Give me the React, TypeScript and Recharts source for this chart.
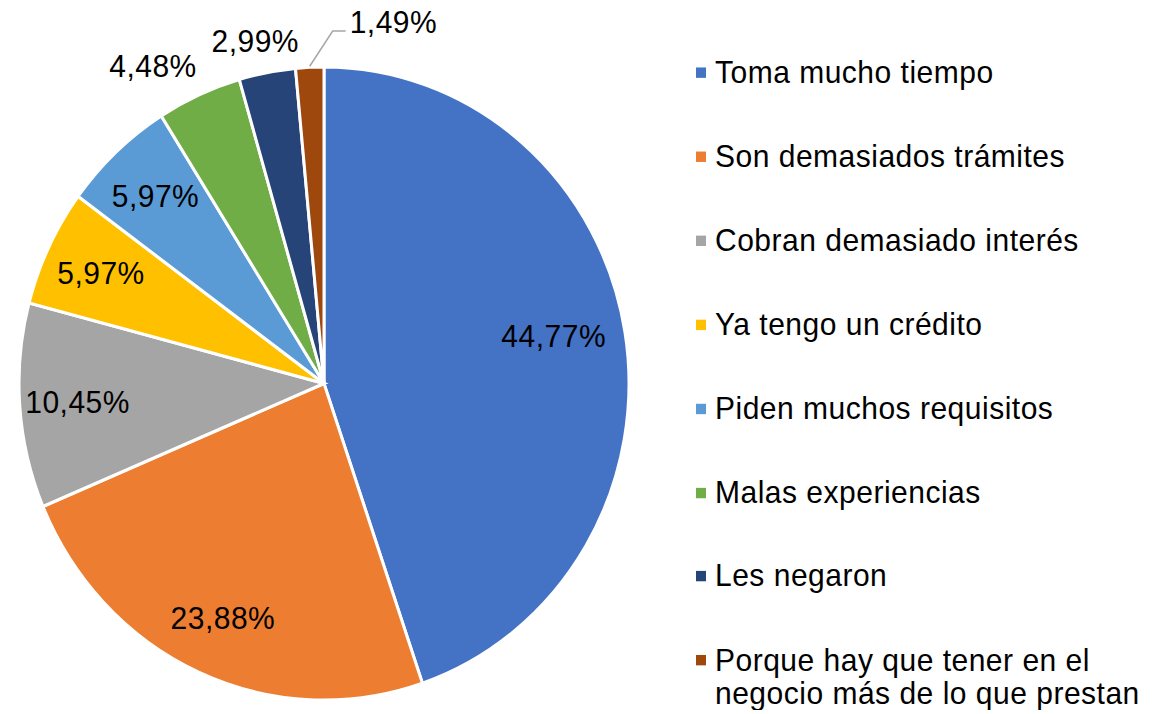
import React from "react";
import { PieChart, Pie, Cell, Legend } from "recharts";

// Razones para no pedir crédito (% de respuestas)
const categories = [
  "Toma mucho tiempo",
  "Son demasiados trámites",
  "Cobran demasiado interés",
  "Ya tengo un crédito",
  "Piden muchos requisitos",
  "Malas experiencias",
  "Les negaron",
  "Porque hay que tener en el negocio más de lo que prestan",
];
const percentages = [44.77, 23.88, 10.45, 5.97, 5.97, 4.48, 2.99, 1.49];
const sliceColors = [
  "#4472C4",
  "#ED7D31",
  "#A5A5A5",
  "#FFC000",
  "#5B9BD5",
  "#70AD47",
  "#264478",
  "#9E480E",
];

const FONT = "'Liberation Sans', Arial, sans-serif";
const FS = 30;
const STRETCH = 1.038; // the original pie is slightly taller than wide

const data = categories.map((name, i) => ({ name, value: percentages[i] }));

const fmt = (v: number) => v.toFixed(2).replace(".", ",") + "%";

const polar = (cx: number, cy: number, r: number, angle: number) => {
  const rad = (angle * Math.PI) / 180;
  return { x: cx + r * Math.cos(rad), y: cy - r * Math.sin(rad) };
};

// hand tweaks so labels sit where the original put them
const labelNudge: Record<number, { dx: number; dy: number }> = {
  0: { dx: -14, dy: -6 },
  5: { dx: -20, dy: 0 },
};

const renderLabel = (props: any) => {
  const { cx, cy, midAngle, outerRadius, value, index } = props;
  const text = fmt(value);
  const nudge = labelNudge[index] || { dx: 0, dy: 0 };
  const common = {
    fontFamily: FONT,
    fontSize: FS,
    letterSpacing: 0.5,
    fill: "#000",
  };

  if (value >= 5) {
    const p = polar(cx, cy, outerRadius * 0.81, midAngle);
    return (
      <text
        x={p.x + nudge.dx}
        y={p.y + nudge.dy + FS * 0.36}
        textAnchor="middle"
        {...common}
      >
        {text}
      </text>
    );
  }

  if (value < 2) {
    // tiny slice: label pulled out with a leader line
    const s = polar(cx, cy, outerRadius + 1, midAngle);
    const bx = s.x + 23;
    const by = s.y - 34;
    const ex = bx + 13;
    return (
      <g>
        <polyline
          points={`${s.x},${s.y} ${bx},${by} ${ex},${by}`}
          fill="none"
          stroke="#A6A6A6"
          strokeWidth={1.5}
        />
        <text x={ex + 4} y={by + 2} textAnchor="start" {...common}>
          {text}
        </text>
      </g>
    );
  }

  const w = FS * 2.9;
  const h = FS * 0.72;
  const p = polar(cx, cy, outerRadius + 20, midAngle);
  const rad = (midAngle * Math.PI) / 180;
  const bx = p.x + (w / 2) * Math.cos(rad) + nudge.dx;
  const by = p.y - (h / 2) * Math.sin(rad) + nudge.dy;
  return (
    <text x={bx} y={by + FS * 0.36} textAnchor="middle" {...common}>
      {text}
    </text>
  );
};

const renderLegend = () => (
  <div style={{ fontFamily: FONT, fontSize: FS, letterSpacing: 0.5, color: "#000" }}>
    {categories.map((name, i) => (
      <div key={name} style={{ position: "relative", height: 80.95 }}>
        <span
          style={{
            position: "absolute",
            left: 0,
            top: 11,
            width: 10,
            height: 10,
            background: sliceColors[i],
          }}
        />
        <div
          style={{
            position: "absolute",
            left: 19,
            top: 0,
            width: 430,
            lineHeight: "32px",
          }}
        >
          {name}
        </div>
      </div>
    ))}
  </div>
);

export default function App() {
  return (
    <div
      style={{
        position: "absolute",
        left: 0,
        top: 0,
        width: 1157,
        height: 714,
        overflow: "hidden",
        background: "#fff",
      }}
    >
      <div style={{ transform: `scaleY(${STRETCH})`, transformOrigin: "0 0" }}>
        <PieChart
          width={1157}
          height={688}
          margin={{ top: 0, right: 0, bottom: 0, left: 0 }}
        >
          <Pie
            data={data}
            dataKey="value"
            nameKey="name"
            cx={324}
            cy={369.5}
            outerRadius={305}
            startAngle={90}
            endAngle={-270}
            label={renderLabel}
            labelLine={false}
            isAnimationActive={false}
          >
            {data.map((d, i) => (
              <Cell key={d.name} fill={sliceColors[i]} stroke="#fff" strokeWidth={3} />
            ))}
          </Pie>
          <Legend
            layout="vertical"
            align="right"
            verticalAlign="top"
            content={renderLegend}
            wrapperStyle={{ left: 696, top: 53.85, width: 455 }}
          />
        </PieChart>
      </div>
    </div>
  );
}
